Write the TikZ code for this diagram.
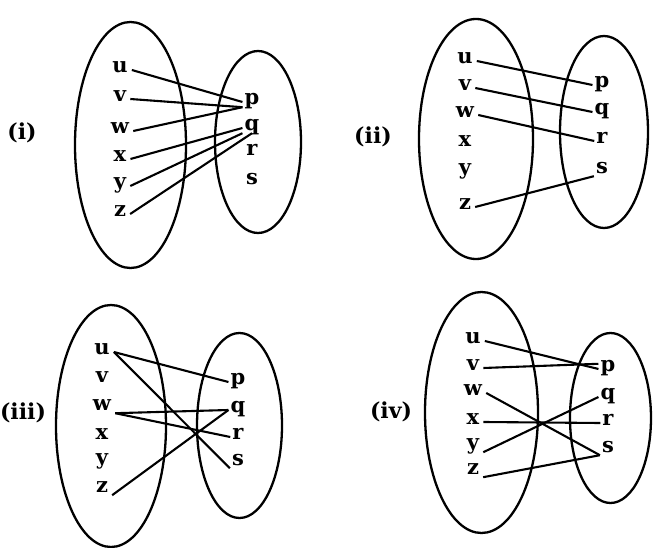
\documentclass[tikz,border=0pt]{standalone}
\usepackage{fontspec}
\setmainfont{DejaVu Serif}
\usetikzlibrary{positioning}

\tikzset{
  dom/.style={inner ysep=0pt,inner xsep=4pt,text height=0.75em,text depth=0.25em,font=\bfseries\fontsize{21}{24}\selectfont},
  cod/.style={inner ysep=0pt,inner xsep=2pt,text height=0.75em,text depth=0.25em,font=\bfseries\fontsize{21}{24}\selectfont},
  tag/.style={font=\bfseries\fontsize{22}{26}\selectfont},
  setline/.style={line width=2.3pt},
  mapline/.style={line width=2.1pt},
}

\begin{document}
\begin{tikzpicture}[x=1pt,y=-1pt]
  \useasboundingbox (0,0) rectangle (654,548);

  % (i)
  \draw[setline] (130.5,145) ellipse [x radius=55.5pt, y radius=123pt];
  \draw[setline] (258,142) ellipse [x radius=43pt, y radius=91pt];
  \node[tag] (t1) at (22,133) {(i)};
  \foreach \n/\yy in {u/70,v/99,w/131,x/159,y/186,z/214}
    \node[dom] (\n1) at (120,\yy) {\n};
  \foreach \n/\yy in {p/102,q/128,r/153,s/182}
    \node[cod] (\n1) at (252,\yy) {\n};
  \draw[mapline] (u1.east) -- (p1.west);
  \draw[mapline] (v1.east) -- (p1.south west);
  \draw[mapline] (w1.east) -- (p1.south west);
  \draw[mapline] (x1.east) -- (q1.west);
  \draw[mapline] (y1.east) -- (q1.south west);
  \draw[mapline] (z1.east) -- (q1.south);

  % (ii)
  \draw[setline] (476,139) ellipse [x radius=57pt, y radius=120pt];
  \draw[setline] (604,132) ellipse [x radius=44pt, y radius=96pt];
  \node[tag] (t2) at (373,137) {(ii)};
  \foreach \n/\yy in {u/61,v/88,w/115,x/144,y/172,z/207}
    \node[dom] (\n2) at (465,\yy) {\n};
  \foreach \n/\yy in {p/85,q/112,r/141,s/171}
    \node[cod] (\n2) at (602,\yy) {\n};
  \draw[mapline] (u2.east) -- (p2.west);
  \draw[mapline] (v2.east) -- (q2.west);
  \draw[mapline] (w2.east) -- (r2.west);
  \draw[mapline] (z2.east) -- (s2.south west);

  % (iii)
  \draw[setline] (111,426) ellipse [x radius=55pt, y radius=121pt];
  \draw[setline] (239.5,425.5) ellipse [x radius=42.5pt, y radius=92.5pt];
  \node[tag] (t3) at (23,413) {(iii)};
  \foreach \n/\yy in {u/352,v/380,w/408,x/437,y/462,z/490}
    \node[dom] (\n3) at (102,\yy) {\n};
  \foreach \n/\yy in {p/382,q/410,r/437,s/463}
    \node[cod] (\n3) at (238,\yy) {\n};
  \draw[mapline] (u3.east) -- (p3.west);
  \draw[mapline] (u3.east) -- (s3.south west);
  \draw[mapline] (w3.south east) -- (q3.west);
  \draw[mapline] (w3.south east) -- (r3.west);
  \draw[mapline] (z3.south east) -- (q3.west);

  % (iv)
  \draw[setline] (481.5,412.5) ellipse [x radius=56.5pt, y radius=120.5pt];
  \draw[setline] (610.5,418) ellipse [x radius=40.5pt, y radius=85pt];
  \node[tag] (t4) at (391,412) {(iv)};
  \foreach \n/\yy in {u/341,v/368,w/393,x/422,y/447,z/472}
    \node[dom] (\n4) at (473,\yy) {\n};
  \foreach \n/\yy in {p/369,q/397,r/423,s/450}
    \node[cod] (\n4) at (608,\yy) {\n};
  \draw[mapline] (u4.east) -- (p4.west);
  \draw[mapline] (v4.east) -- (p4.north west);
  \draw[mapline] (w4.east) -- (s4.south west);
  \draw[mapline] (x4.east) -- (r4.west);
  \draw[mapline] (y4.south east) -- (q4.west);
  \draw[mapline] (z4.south east) -- (s4.south west);
\end{tikzpicture}
\end{document}
